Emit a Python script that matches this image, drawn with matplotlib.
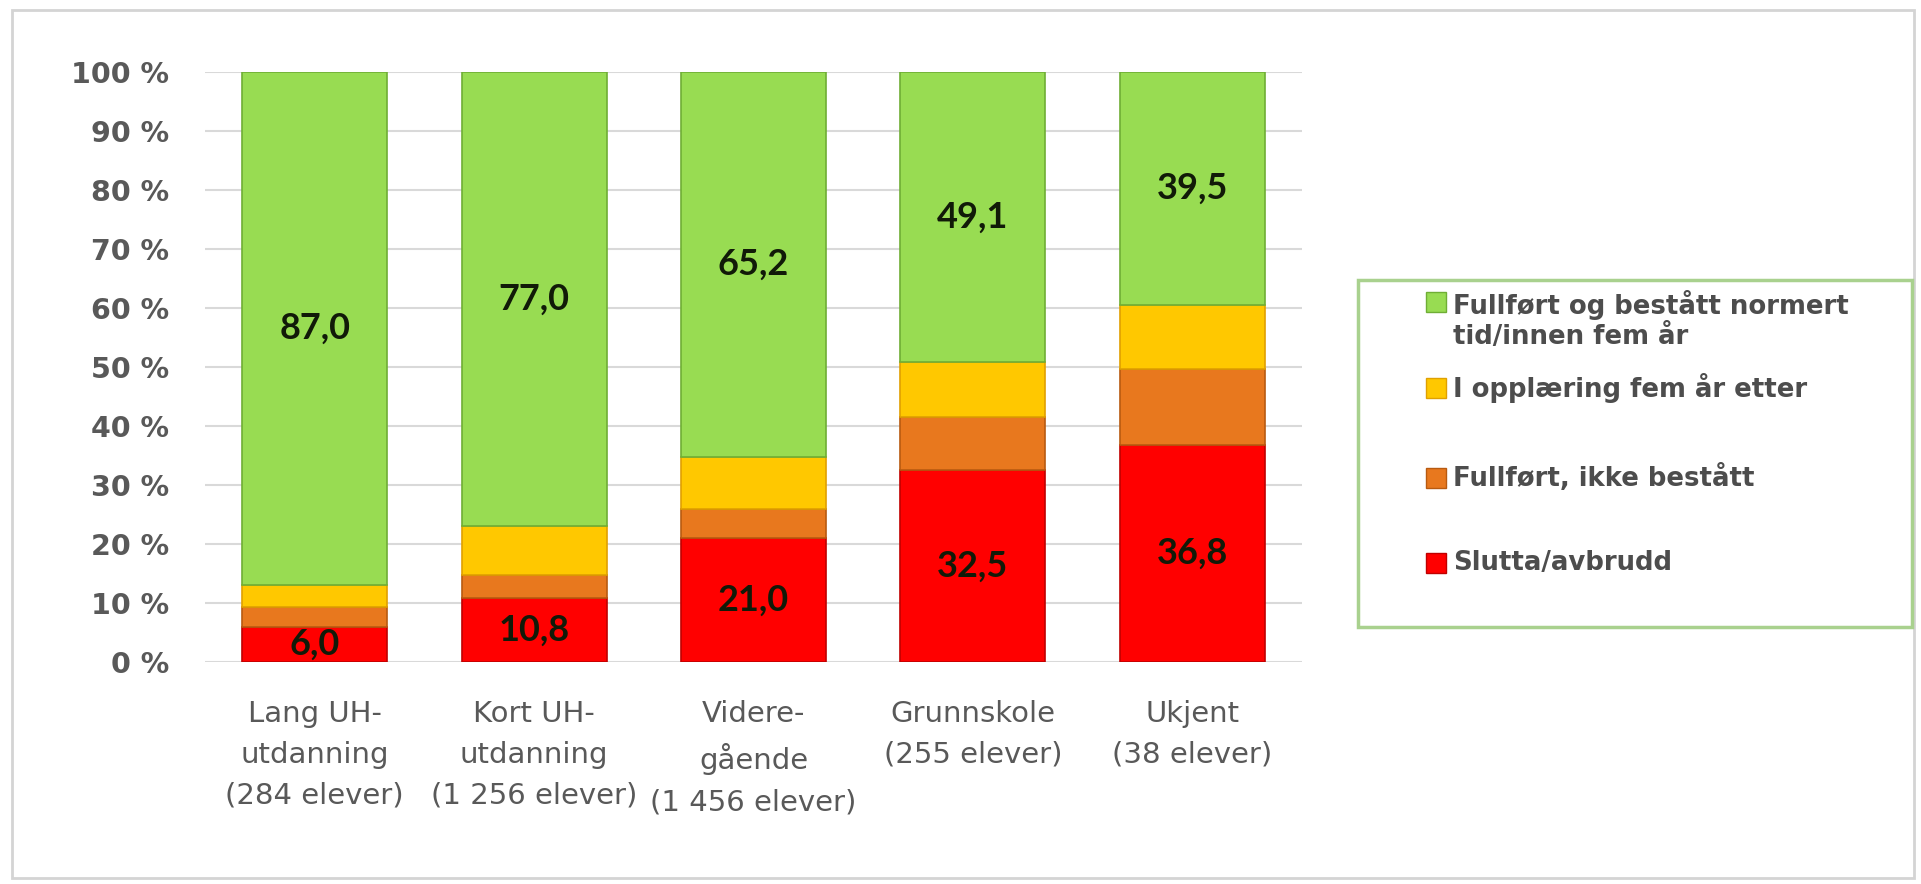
"""Stacked bar chart: status five years after start, by parents' education."""
import matplotlib.pyplot as plt
from matplotlib.patches import Rectangle
import numpy as np

categories = [
    "Lang UH-\nutdanning\n(284 elever)",
    "Kort UH-\nutdanning\n(1 256 elever)",
    "Videre-\ngående\n(1 456 elever)",
    "Grunnskole\n(255 elever)",
    "Ukjent\n(38 elever)",
]
slutta = [6.0, 10.8, 21.0, 32.5, 36.8]
ikke_bestatt = [3.3, 4.0, 4.9, 9.0, 12.9]
i_opplaering = [3.7, 8.2, 8.9, 9.4, 10.8]
fullfort = [87.0, 77.0, 65.2, 49.1, 39.5]

series_names = [
    "Slutta/avbrudd",
    "Fullført, ikke bestått",
    "I opplæring fem år etter",
    "Fullført og bestått normert\ntid/innen fem år",
]

W, H = 1921, 884


def fx(px):
    return px / W


def fy(py):
    return 1 - py / H


fig = plt.figure(figsize=(W / 100, H / 100), dpi=100)
fig.patch.set_facecolor("white")

# outer frame of the chart area
fig.patches.append(Rectangle((fx(12), fy(878)), fx(1914) - fx(12), fy(10) - fy(878),
                             transform=fig.transFigure, fill=False,
                             edgecolor="#d4d4d4", linewidth=2))

ax = fig.add_axes([fx(205), fy(662), fx(1302) - fx(205), fy(72) - fy(662)])

colors = ["#ff0000", "#e8781e", "#ffc800", "#98dc52"]
edges = ["#c00000", "#b85a10", "#e0a000", "#6fae35"]
data = [slutta, ikke_bestatt, i_opplaering, fullfort]

x = np.arange(len(categories))
bottom = np.zeros(len(categories))
bars = []
for vals, c, ec in zip(data, colors, edges):
    b = ax.bar(x, vals, width=0.66, bottom=bottom, color=c, edgecolor=ec,
               linewidth=1.2, zorder=3)
    bars.append(b)
    bottom += np.array(vals)

# value labels on the red and green segments
for b, vals in ((bars[0], slutta), (bars[3], fullfort)):
    labels = [f"{v:.1f}".replace(".", ",") for v in vals]
    ax.bar_label(b, labels=labels, label_type="center", fontsize=26,
                 fontweight="bold", family=["Lato", "DejaVu Sans"],
                 color="#111a08", zorder=4)

ax.set_xlim(-0.5, len(categories) - 0.5)
ax.set_ylim(0, 100)
ax.set_yticks(np.arange(0, 101, 10))
ax.set_yticklabels([f"{t} %" for t in range(0, 101, 10)])
ax.set_xticks(x)
ax.set_xticklabels(categories, linespacing=1.6)
ax.tick_params(axis="y", length=0, pad=26, labelsize=20.5, labelcolor="#595959")
ax.tick_params(axis="x", length=0, pad=27, labelsize=21, labelcolor="#595959")
for lbl in ax.get_yticklabels():
    lbl.set_fontweight("bold")
ax.grid(axis="y", color="#d9d9d9", linewidth=1.5, zorder=0)
for s in ax.spines.values():
    s.set_visible(False)

# legend box drawn to match the spread-out layout of the original
fig.patches.append(Rectangle((fx(1358), fy(627)), fx(1912) - fx(1358), fy(280) - fy(627),
                             transform=fig.transFigure, fill=False,
                             edgecolor="#a9d18e", linewidth=2.5))
rows = [563, 478, 388, 302]
for name, c, ec, ry in zip(series_names, colors, edges, rows):
    fig.patches.append(Rectangle((fx(1426), fy(ry + 10)), fx(20), fy(0) - fy(20),
                                 transform=fig.transFigure, facecolor=c,
                                 edgecolor=ec, linewidth=1))
    ty = ry + 18 if "\n" in name else ry
    fig.text(fx(1453), fy(ty), name, ha="left", va="center",
             fontsize=18.7, fontweight="bold", color="#4d4d4d", linespacing=1.15)

fig.savefig("out.png", dpi=100)
